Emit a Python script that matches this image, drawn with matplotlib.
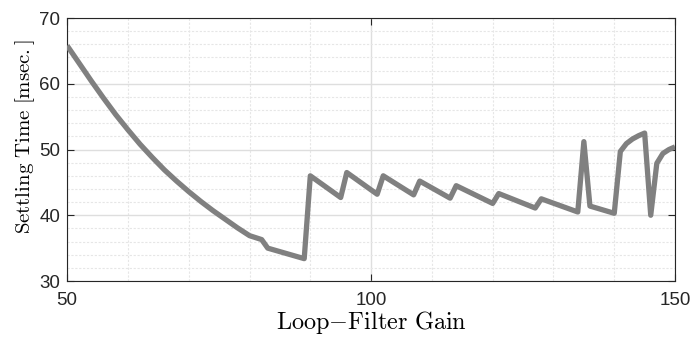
import matplotlib
matplotlib.use("Agg")
import matplotlib.pyplot as plt
from matplotlib.ticker import MultipleLocator

plt.rcParams["mathtext.fontset"] = "cm"
plt.rcParams["font.family"] = ["Liberation Sans", "DejaVu Sans"]

# settling time vs loop-filter gain
gain = [50, 52, 54, 56, 58, 60, 62, 64, 66, 68, 70, 72, 74, 76, 78, 80, 82,
        83, 89, 90, 95, 96, 101, 102, 107, 108, 113, 114, 120, 121, 127, 128,
        134, 135, 136, 140, 141, 142, 143, 144, 145, 146, 147, 148, 149, 150]
settling = [65.8, 63.1, 60.4, 57.8, 55.3, 53.0, 50.8, 48.8, 46.9, 45.2, 43.6,
            42.1, 40.7, 39.4, 38.1, 36.9, 36.3,
            35.0, 33.4, 46.0, 42.7, 46.5, 43.2, 46.0, 43.1, 45.2, 42.6, 44.5,
            41.8, 43.3, 41.1, 42.5, 40.5, 51.2, 41.4, 40.3, 49.7, 50.9, 51.6,
            52.1, 52.5, 40.0, 47.9, 49.4, 50.0, 50.4]

fig = plt.figure(figsize=(6.92, 3.40), dpi=100)
ax = fig.add_axes([0.097, 0.1735, 0.8785, 0.7735])

ax.plot(gain, settling, color="#808080", lw=3.8, solid_joinstyle="round",
        solid_capstyle="butt", zorder=3)

ax.set_xlim(50, 150)
ax.set_ylim(30, 70)
ax.xaxis.set_major_locator(MultipleLocator(50))
ax.xaxis.set_minor_locator(MultipleLocator(10))
ax.yaxis.set_major_locator(MultipleLocator(10))
ax.yaxis.set_minor_locator(MultipleLocator(2))

ax.grid(which="major", color="#dedede", lw=1.0, ls="-")
ax.grid(which="minor", color="#e6e6e6", lw=0.8, ls=(0, (2, 1.5)))
ax.set_axisbelow(True)

ax.tick_params(which="major", direction="in", length=5, width=0.8,
               top=True, right=True, labelsize=13.5, colors="#262626")
ax.tick_params(axis="x", pad=8)
ax.tick_params(axis="y", pad=5)
ax.tick_params(which="minor", length=0)
for s in ax.spines.values():
    s.set_color("#262626")
    s.set_linewidth(0.8)

ax.set_xlabel(r"$\mathrm{Loop{-}Filter\ Gain}$", fontsize=17.5, labelpad=0)
ax.set_ylabel(r"$\mathrm{Settling\ Time\ [msec.]}$", fontsize=15)
ax.yaxis.set_label_coords(-0.05, 0.55)

fig.savefig("out.png", dpi=100)
